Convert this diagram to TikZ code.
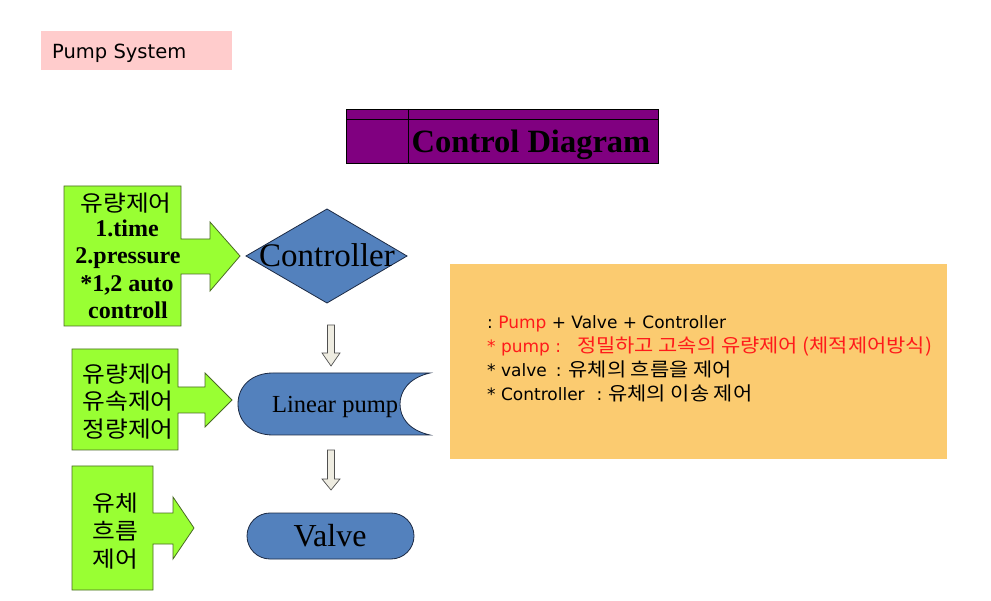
\documentclass[tikz,border=0pt]{standalone}
\usepackage{fontspec}
\setmainfont{Liberation Serif}
\newfontfamily\kr[FakeStretch=1.1]{Noto Sans CJK KR}
\newfontfamily\dv{DejaVu Sans}
\definecolor{pinkbg}{HTML}{FFCCCC}
\definecolor{purp}{HTML}{800080}
\definecolor{grn}{HTML}{99FF33}
\definecolor{grnline}{HTML}{4A6A24}
\definecolor{blu}{HTML}{5381BD}
\definecolor{bluline}{HTML}{1C2A44}
\definecolor{orng}{HTML}{FBCB70}
\definecolor{redtxt}{HTML}{FF1A1A}
\definecolor{arrfill}{HTML}{EEECE1}
\definecolor{arrline}{HTML}{505050}
\newcommand{\latinfont}{\dv\fontsize{17}{20}\selectfont}
\newcommand{\korfont}{\kr\fontsize{19}{21}\selectfont}
\begin{document}
\begin{tikzpicture}[x=1pt,y=-1pt,
  callout/.style={fill=grn, draw=grnline, line width=0.8pt},
  blushape/.style={fill=blu, draw=bluline, line width=0.8pt},
  blockarrow/.style={fill=arrfill, draw=arrline, line width=0.7pt},
  krtxt/.style={font=\kr\fontsize{22.5}{27}\selectfont, inner sep=0pt},
  boldtxt/.style={font=\bfseries\fontsize{24}{27}\selectfont, inner sep=0pt, anchor=base},
  oline/.style={anchor=base west, inner sep=0pt, font=\latinfont}]
\useasboundingbox (0,0) rectangle (991,601);

% Pump System label
\fill[pinkbg] (41,31) rectangle (232,70);
\node[anchor=base west, inner sep=0pt, font=\dv\fontsize{19.5}{22}\selectfont] (title) at (52,59) {Pump System};

% Control Diagram table
\draw[fill=purp, line width=0.8pt] (346,109) rectangle (658,163);
\draw[line width=0.8pt] (346,119) -- (658,119);
\draw[line width=0.8pt] (408,109) -- (408,163);
\node[anchor=base, inner sep=0pt, font=\bfseries\fontsize{32.5}{36}\selectfont] (cd) at (531,153) {Control Diagram};

% Green callout 1
\draw[callout] (64,186) -- (181,186) -- (181,239) -- (210,239) -- (210,222) -- (240,256) -- (210,291) -- (210,274) -- (181,274) -- (181,326) -- (64,326) -- cycle;
\node[krtxt] (g1a) at (126,203) {유량제어};
\node[boldtxt] (g1b) at (127,237) {1.time};
\node[boldtxt] (g1c) at (128,264) {2.pressure};
\node[boldtxt] (g1d) at (127,292) {*1,2 auto};
\node[boldtxt] (g1e) at (128,319) {controll};

% Green callout 2
\draw[callout] (72,349) -- (178,349) -- (178,387) -- (205,387) -- (205,373) -- (232,400) -- (205,427) -- (205,413) -- (178,413) -- (178,450) -- (72,450) -- cycle;
\node[krtxt] (g2a) at (128,374) {유량제어};
\node[krtxt] (g2b) at (128,401) {유속제어};
\node[krtxt] (g2c) at (128,429) {정량제어};

% Green callout 3
\draw[callout] (72,466) -- (153,466) -- (153,513) -- (173,513) -- (173,497) -- (194,528) -- (173,559) -- (173,544) -- (153,544) -- (153,590) -- (72,590) -- cycle;
\node[krtxt] (g3a) at (115,503) {유체};
\node[krtxt] (g3b) at (115,531) {흐름};
\node[krtxt] (g3c) at (115,559) {제어};

% Controller diamond
\draw[blushape] (246,256) -- (327,209) -- (407,256) -- (327,303) -- cycle;
\node[anchor=base, inner sep=0pt, font=\fontsize{33}{36}\selectfont] (ctrl) at (327,267) {Controller};

% Linear pump shape
\draw[blushape] (273,373) -- (430,373)
  .. controls (408,378) and (400,392) .. (400,404)
  .. controls (400,417) and (408,430) .. (430,435)
  -- (273,435)
  .. controls (252,435) and (238,422) .. (238,404)
  .. controls (238,386) and (252,373) .. (273,373) -- cycle;
\node[anchor=base west, inner sep=0pt, font=\fontsize{24.5}{28}\selectfont] (pump) at (272,413) {Linear pump};

% Valve
\draw[blushape, rounded corners=23pt] (247,513) rectangle (414,559);
\node[anchor=base, inner sep=0pt, font=\fontsize{32}{34}\selectfont] (valve) at (330,546) {Valve};

% Block arrows
\draw[blockarrow] (327.5,325) -- (334.5,325) -- (334.5,353) -- (340,353) -- (331,366) -- (322,353) -- (327.5,353) -- cycle;
\draw[blockarrow] (327.5,450) -- (334.5,450) -- (334.5,479) -- (340,479) -- (331,490) -- (322,479) -- (327.5,479) -- cycle;

% Orange note box
\fill[orng] (450,264) rectangle (947,459);
\node[oline] (o1) at (487,329) {:\ {\color{redtxt}Pump} + Valve + Controller};
\node[oline, text=redtxt] (o2) at (487,353) {* pump :\hspace{16pt}{\korfont 정밀하고 고속의 유량제어 (체적제어방식)}};
\node[oline] (o3) at (487,377) {* valve\hspace{9pt}:\hspace{7pt}{\korfont 유체의 흐름을 제어}};
\node[oline] (o4) at (487,401) {* Controller\hspace{12pt}:\hspace{6pt}{\korfont 유체의 이송 제어}};
\end{tikzpicture}
\end{document}
